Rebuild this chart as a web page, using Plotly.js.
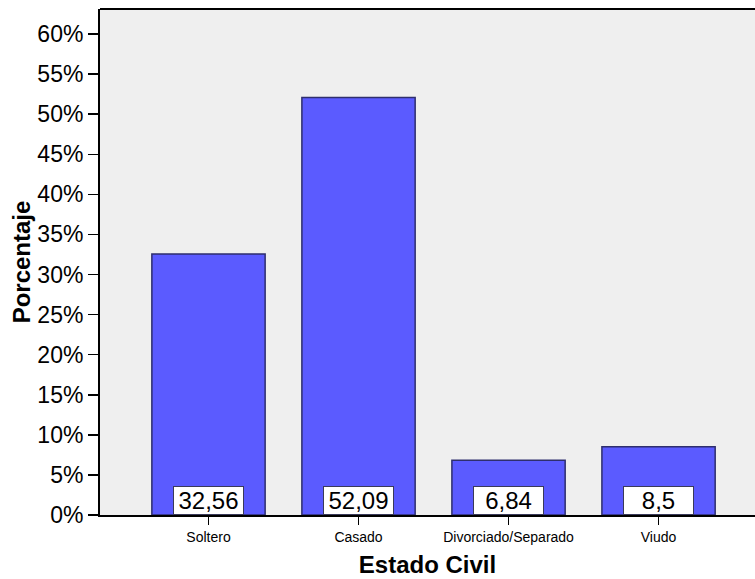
<!DOCTYPE html>
<html>
<head>
<meta charset="utf-8">
<script src="https://cdn.plot.ly/plotly-3.0.1.min.js"></script>
<style>html,body{margin:0;padding:0;background:#fff;}#chart{width:755px;height:579px;}</style>
</head>
<body>
<div id="chart"></div>
<script>
const categories = ["Soltero", "Casado", "Divorciado/Separado", "Viudo"];
const percentages = [32.56, 52.09, 6.84, 8.5];
const yTickValues = [0, 5, 10, 15, 20, 25, 30, 35, 40, 45, 50, 55, 60];
const yTickLabels = ["0%", "5%", "10%", "15%", "20%", "25%", "30%", "35%", "40%", "45%", "50%", "55%", "60%"];

const FONT = "Arial, 'Liberation Sans', sans-serif";
const xIdx = categories.map((c, i) => i);

const trace = {
  type: "bar",
  x: xIdx,
  y: percentages,
  width: 0.755,
  marker: { color: "#5b5bff", line: { color: "#2e2e6e", width: 1.5 } },
  hoverinfo: "skip"
};

const annotations = percentages.map((v, i) => ({
  x: i, y: 0, xref: "x", yref: "y",
  xanchor: "center", yanchor: "bottom",
  text: String(v).replace(".", ","),
  showarrow: false,
  font: { family: FONT, size: 24, color: "#000" },
  bgcolor: "#ffffff",
  bordercolor: "#3a3a5a",
  borderwidth: 1,
  borderpad: 0,
  width: 69,
  height: 27
}));

const layout = {
  width: 755, height: 579,
  margin: { l: 100, r: 0, t: 9, b: 64 },
  paper_bgcolor: "#ffffff",
  plot_bgcolor: "#efefef",
  showlegend: false,
  font: { family: FONT, color: "#000" },
  xaxis: {
    range: [-0.7233, 3.643],
    tickvals: xIdx,
    ticktext: categories,
    ticks: "outside", ticklen: 8, tickwidth: 1.5, tickcolor: "#000",
    tickfont: { family: FONT, size: 14, color: "#000" },
    showline: true, linecolor: "#000", linewidth: 2,
    showgrid: false, zeroline: false,
    title: { text: "<b>Estado Civil</b>", font: { family: FONT, size: 24, color: "#000" }, standoff: 12 }
  },
  yaxis: {
    range: [0, 63.12],
    tickvals: yTickValues,
    ticktext: yTickLabels,
    ticks: "outside", ticklen: 10, tickwidth: 1.5, tickcolor: "#000",
    tickfont: { family: FONT, size: 23, color: "#000" },
    showline: true, linecolor: "#000", linewidth: 2,
    showgrid: false, zeroline: false,
    title: { text: "<b>Porcentaje</b>", font: { family: FONT, size: 24, color: "#000" }, standoff: 0 }
  },
  shapes: [
    { type: "line", xref: "paper", yref: "paper", x0: 0, x1: 1, y0: 1, y1: 1,
      line: { color: "#000", width: 2 } }
  ],
  annotations: annotations
};

Plotly.newPlot("chart", [trace], layout, { displayModeBar: false, staticPlot: true });
</script>
</body>
</html>
